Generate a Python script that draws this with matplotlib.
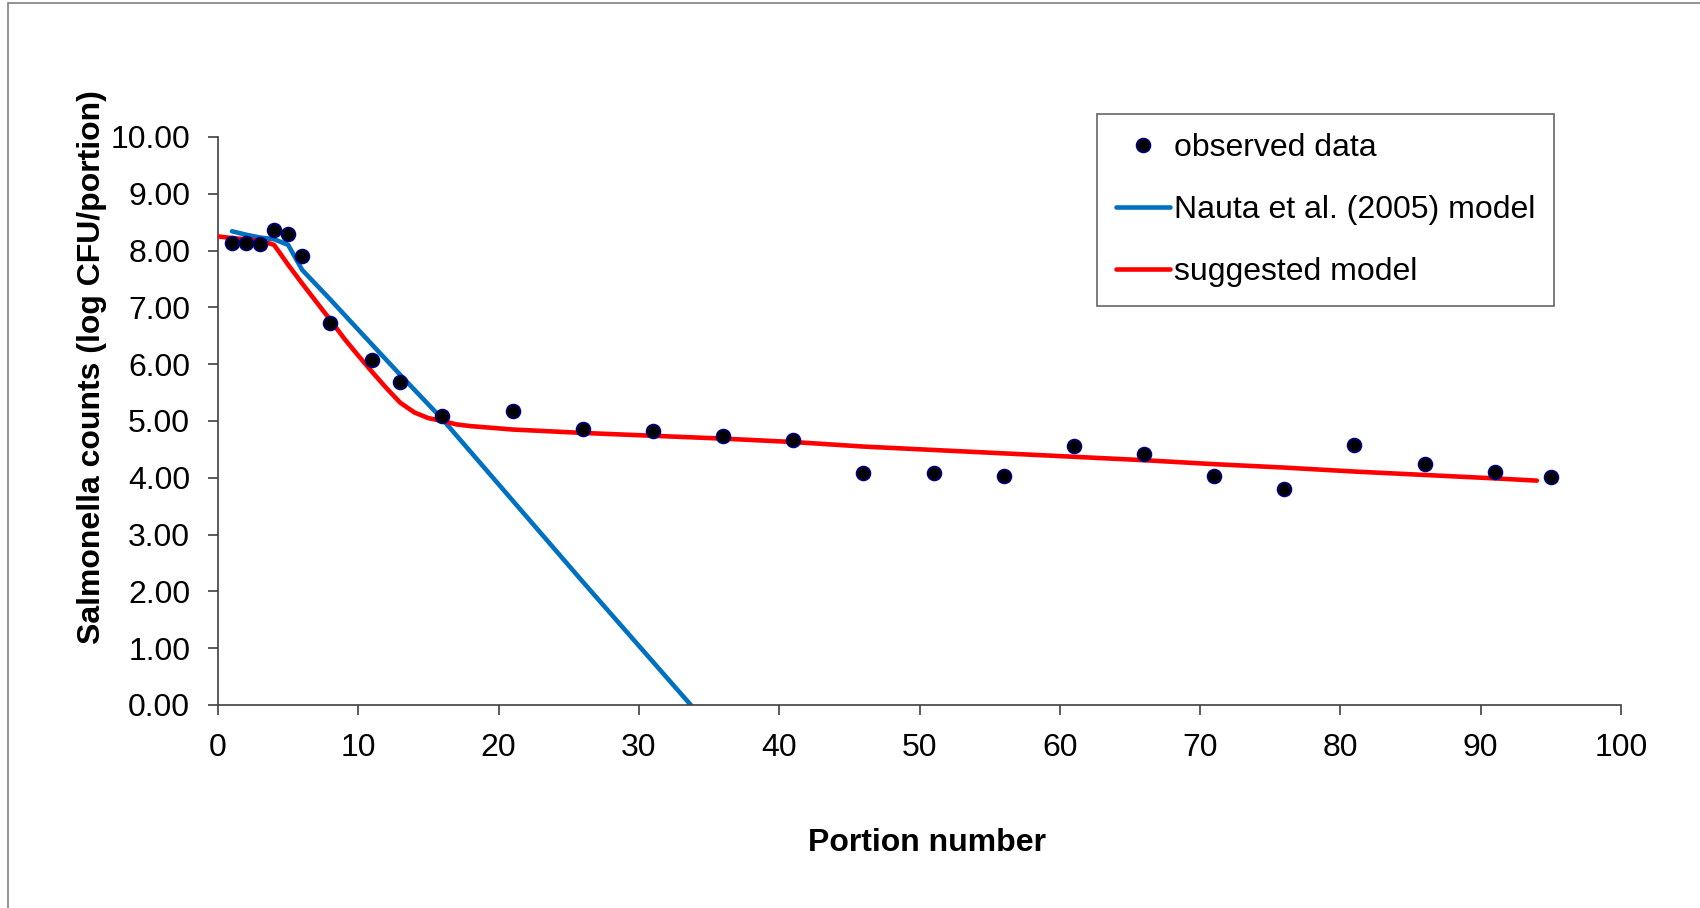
import matplotlib.pyplot as plt
from matplotlib.patches import Rectangle
from matplotlib.ticker import FormatStrFormatter

plt.rcParams['font.family'] = ['Liberation Sans', 'DejaVu Sans']

# observed data
portion_obs = [1, 2, 3, 4, 5, 6, 8, 11, 13, 16, 21, 26, 31, 36, 41, 46, 51, 56,
               61, 66, 71, 76, 81, 86, 91, 95]
log_obs = [8.14, 8.14, 8.12, 8.37, 8.29, 7.90, 6.73, 6.08, 5.69, 5.09, 5.17, 4.86,
           4.82, 4.74, 4.66, 4.09, 4.09, 4.04, 4.56, 4.42, 4.04, 3.81, 4.57, 4.25,
           4.10, 4.02]

# Nauta et al. (2005) model
portion_nauta = [1, 2, 3, 4, 5, 6, 8, 11, 13, 16, 21, 26, 31, 33.7]
log_nauta = [8.34, 8.28, 8.23, 8.20, 8.10, 7.66, 7.14, 6.34, 5.81, 5.03, 3.60,
             2.17, 0.76, 0.0]

# suggested model
portion_sugg = [0, 1, 2, 3, 4, 5, 6, 7, 8, 9, 10, 11, 12, 13, 14, 15, 16, 17, 18,
                20, 21, 26, 31, 36, 41, 46, 51, 56, 61, 66, 71, 76, 81, 86, 91, 94]
log_sugg = [8.25, 8.22, 8.20, 8.18, 8.10, 7.75, 7.42, 7.10, 6.78, 6.45, 6.15, 5.86,
            5.58, 5.32, 5.15, 5.05, 5.00, 4.94, 4.91, 4.87, 4.85, 4.79, 4.74, 4.69,
            4.63, 4.55, 4.49, 4.43, 4.37, 4.31, 4.24, 4.18, 4.11, 4.05, 3.99, 3.95]

fs = 23

fig = plt.figure(figsize=(17, 9.08), dpi=100)
ax = fig.add_axes([218 / 1700, 1 - 705 / 908, 1403 / 1700, 568 / 908])

# chart area frame (right and bottom edges cut off in the original)
fig.patches.append(Rectangle((8 / 1700, -0.1), 1.2, 1.1 - 3 / 908,
                             transform=fig.transFigure, fill=False,
                             edgecolor='#808080', linewidth=1.2))

ax.plot(portion_nauta, log_nauta, color='#0070C0', lw=3.3,
        solid_capstyle='round', label='Nauta et al. (2005) model', zorder=2)
ax.plot(portion_sugg, log_sugg, color='#FF0000', lw=3.3,
        solid_capstyle='round', label='suggested model', zorder=3)
ax.plot(portion_obs, log_obs, 'o', color='black', markeredgecolor='#000080',
        markeredgewidth=1.2, markersize=10, label='observed data', zorder=4)

ax.set_xlim(0, 100)
ax.set_ylim(0, 10)
ax.set_xticks(range(0, 101, 10))
ax.set_yticks(range(0, 11))
ax.yaxis.set_major_formatter(FormatStrFormatter('%.2f'))
for s in ['top', 'right']:
    ax.spines[s].set_visible(False)
for s in ['left', 'bottom']:
    ax.spines[s].set_color('#404040')
    ax.spines[s].set_linewidth(1.2)
ax.tick_params(direction='out', length=7, width=1.2, color='#404040',
               labelsize=fs, pad=13)

fig.text(92 / 1700, 1 - 367 / 908, 'Salmonella counts (log CFU/portion)',
         rotation=90, ha='center', va='center', fontsize=fs, fontweight='bold')
fig.text(927 / 1700, 1 - 843 / 908, 'Portion number', ha='center', va='center',
         fontsize=fs, fontweight='bold')

handles, labels = ax.get_legend_handles_labels()
order = [2, 0, 1]
leg = ax.legend([handles[i] for i in order], [labels[i] for i in order],
                loc='upper left', bbox_to_anchor=(1097 / 1700, 1 - 114 / 908),
                bbox_transform=fig.transFigure, fontsize=fs, frameon=True,
                fancybox=False, handlelength=1.7, handletextpad=0.1,
                labelspacing=1.0, borderpad=0.6, borderaxespad=0)
leg.get_frame().set_edgecolor('#404040')
leg.get_frame().set_linewidth(1.2)

fig.savefig('out.png', dpi=100)
